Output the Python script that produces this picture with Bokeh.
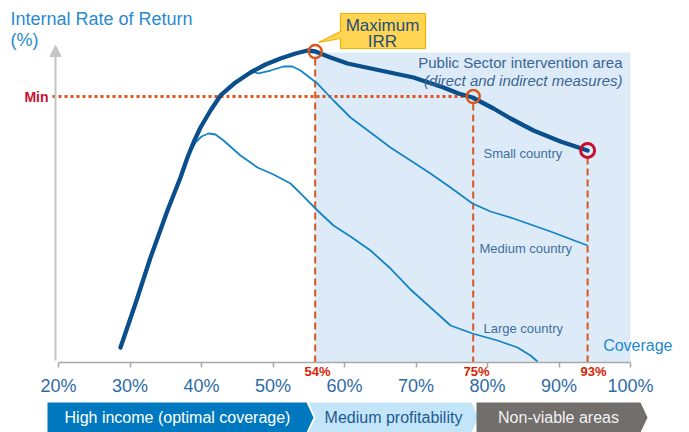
from bokeh.plotting import figure
from bokeh.models import Range1d, LinearAxis, FixedTicker, Arrow, NormalHead
from bokeh.core.properties import value
from bokeh.embed import file_html
from bokeh.resources import INLINE

# ---------------- data ----------------
tick_values = [20, 30, 40, 50, 60, 70, 80, 90, 100]
tick_labels = ["20%", "30%", "40%", "50%", "60%", "70%", "80%", "90%", "100%"]

# Small country (thick curve): coverage %, IRR index
small_cov = [28.67, 30.77, 32.87, 35.24, 37.06, 38.04, 38.88, 39.86, 41.26, 42.66,
             44.76, 46.85, 48.95, 51.05, 53.15, 54.83, 55.94, 58.04, 60.42, 65.03,
             69.65, 73.85, 75.94, 77.90, 80.84, 83.22, 86.43, 90.21, 93.99]
small_irr = [4.73, 18.61, 33.12, 47.95, 58.36, 64.67, 69.40, 74.13, 79.50, 84.23,
             88.33, 91.48, 94.01, 95.90, 97.48, 98.42, 98.11, 96.21, 94.32, 92.11,
             89.91, 86.75, 84.86, 83.60, 80.13, 76.97, 73.19, 69.72, 66.88]

medium_cov = [47.13, 47.97, 49.65, 51.47, 52.73, 53.85, 56.22, 58.46, 60.84, 63.64,
              66.43, 69.23, 72.03, 74.83, 77.90, 80.42, 83.64, 88.81, 93.99]
medium_irr = [91.80, 91.17, 92.11, 93.38, 93.38, 92.11, 88.01, 82.65, 77.29, 72.56,
              67.82, 63.72, 59.62, 55.21, 50.16, 47.63, 45.43, 41.32, 36.91]

large_cov = [38.18, 39.16, 40.00, 40.98, 41.96, 43.08, 45.45, 47.83, 50.07, 52.45,
             54.27, 56.22, 58.46, 60.84, 63.64, 66.43, 69.23, 72.03, 74.83, 77.90,
             81.40, 84.20, 86.01, 86.99]
large_irr = [65.30, 69.40, 71.29, 72.24, 71.92, 70.03, 65.30, 61.51, 59.31, 56.47,
             52.37, 47.95, 43.22, 39.75, 35.33, 29.65, 23.03, 17.35, 11.67, 9.15,
             6.94, 4.73, 2.21, 0.32]

marker_cov = [55.9, 78.0, 94.0]
marker_irr = [98.1, 83.9, 66.9]
marker_labels = ["54%", "75%", "93%"]
min_irr = 83.9

area_start, area_end, area_top = 55.9, 100.0, 97.8

band_labels = ["High income (optimal coverage)", "Medium profitability", "Non-viable areas"]

# ---------------- layout helpers (pixels -> data) ----------------
def fx(px):
    return 20 + (px - 58) / 7.15

def fy(py):
    return (362 - py) / 3.17

F = "Liberation Sans"
W, H = 689, 432

p = figure(width=W, height=H, output_backend="svg", toolbar_location=None,
           x_range=Range1d(fx(0), fx(W)), y_range=Range1d(fy(H), fy(0)),
           x_axis_location=None, y_axis_location=None,
           min_border=0, min_border_left=0, min_border_right=0,
           min_border_top=0, min_border_bottom=0)
p.outline_line_color = None
p.background_fill_color = "#FFFFFF"
p.border_fill_color = "#FFFFFF"
for g in p.grid:
    g.visible = False

# shaded intervention area
p.quad(left=[area_start], right=[area_end], bottom=[0], top=[area_top],
       fill_color="#DDEBF8", line_color=None)

# x axis (real bokeh axis at fixed location)
ax = LinearAxis(fixed_location=0, bounds=(20, 100), ticker=FixedTicker(ticks=tick_values),
                major_label_overrides={v: l for v, l in zip(tick_values, tick_labels)})
ax.axis_line_color = "#A8A8A8"
ax.axis_line_width = 1.5
ax.major_tick_line_color = "#A8A8A8"
ax.major_tick_line_width = 1.5
ax.major_tick_in = 0
ax.major_tick_out = 5
ax.minor_tick_line_color = None
ax.major_label_standoff = 8
ax.major_label_text_font = F
ax.major_label_text_font_size = "18px"
ax.major_label_text_color = "#2E6BA8"
p.add_layout(ax, "below")

# y axis arrow
p.add_layout(Arrow(end=NormalHead(size=11, fill_color="#C4C4C4", line_color="#C4C4C4"),
                   x_start=fx(55), y_start=fy(360), x_end=fx(55), y_end=fy(45),
                   line_color="#C4C4C4", line_width=2))

# Min dotted line
p.segment(x0=[fx(52)], y0=[min_irr], x1=[marker_cov[1] - 1.0], y1=[min_irr],
          line_color="#E0541E", line_width=3, line_dash="3 3")

# dashed verticals
p.segment(x0=marker_cov, y0=[v - 2.2 for v in marker_irr], x1=marker_cov, y1=[0, 0, 0],
          line_color="#D9571F", line_width=2, line_dash="7 4")

# curves
p.line(large_cov, large_irr, line_color="#1683C8", line_width=1.8)
p.line(medium_cov, medium_irr, line_color="#1683C8", line_width=1.8)
p.line(small_cov, small_irr, line_color="#0A4E8C", line_width=4.3, line_join="round", line_cap="round")

# circles
p.scatter(marker_cov[:2], marker_irr[:2], size=13, fill_alpha=0,
          line_color="#D9571F", line_width=2.5)
p.scatter(marker_cov[2:], marker_irr[2:], size=14, fill_alpha=0,
          line_color="#C8102E", line_width=3)

# callout
cx = [340, 425, 425, 340, 340, 318, 340]
cy = [13, 13, 48, 48, 38, 42, 31]
p.patch([fx(v) for v in cx], [fy(v) for v in cy], fill_color="#FFD452",
        line_color="#F0B400", line_width=1.2)
p.text(x=[fx(382), fx(382)], y=[fy(25), fy(41)], text=["Maximum", "IRR"],
       text_font=value(F), text_font_size="17px", text_color="#1F4E79",
       text_align="center", text_baseline="middle")

# titles
p.text(x=[fx(10)], y=[fy(18)], text=["Internal Rate of Return"], text_font=value(F),
       text_font_size="18px", text_color="#2A8AD0", text_align="left", text_baseline="middle")
p.text(x=[fx(10)], y=[fy(39)], text=["(%)"], text_font=value(F),
       text_font_size="18px", text_color="#2A8AD0", text_align="left", text_baseline="middle")

p.text(x=[fx(622)], y=[fy(62)], text=["Public Sector intervention area"], text_font=value(F),
       text_font_size="15px", text_color="#3A6592", text_align="right", text_baseline="middle")
p.text(x=[fx(622)], y=[fy(80)], text=["(direct and indirect measures)"], text_font=value(F),
       text_font_size="15px", text_font_style="italic", text_color="#3A6592",
       text_align="right", text_baseline="middle")

p.text(x=[fx(48)], y=[min_irr], text=["Min"], text_font=value(F), text_font_size="14px",
       text_font_style="bold", text_color="#C8102E", text_align="right", text_baseline="middle")

p.text(x=[fx(317), fx(476), fx(593)], y=[fy(371)] * 3, text=marker_labels, text_font=value(F),
       text_font_size="13px", text_font_style="bold", text_color="#D81E05",
       text_align="center", text_baseline="middle")

p.text(x=[fx(672)], y=[fy(345)], text=["Coverage"], text_font=value(F), text_font_size="16px",
       text_color="#1E88D0", text_align="right", text_baseline="middle")

p.text(x=[fx(483), fx(479), fx(483)], y=[fy(153), fy(248), fy(328)],
       text=["Small country", "Medium country", "Large country"], text_font=value(F),
       text_font_size="13px", text_color="#3F6E9E", text_align="left", text_baseline="middle")

# bottom bands (chevrons)
T, B, M = 402, 432, 417
band_px = [
    ([47, 306, 313, 306, 47], [T, T, M, B, B]),
    ([308, 471, 478, 471, 308, 315], [T, T, M, B, B, M]),
    ([476, 640, 647, 640, 476], [T, T, M, B, B]),
]
band_fill = ["#0078BF", "#C3E5FA", "#716E6C"]
band_text_color = ["#FFFFFF", "#1F5A8C", "#F2F2F2"]
band_text_x = [177, 393, 558]
p.patches([[fx(v) for v in xs] for xs, _ in band_px], [[fy(v) for v in ys] for _, ys in band_px],
          fill_color=band_fill, line_color=None)
p.text(x=[fx(v) for v in band_text_x], y=[fy(M)] * 3, text=band_labels, text_font=value(F),
       text_font_size="16px", text_color=band_text_color, text_align="center",
       text_baseline="middle")

open("out.html", "w").write(file_html(p, INLINE))
